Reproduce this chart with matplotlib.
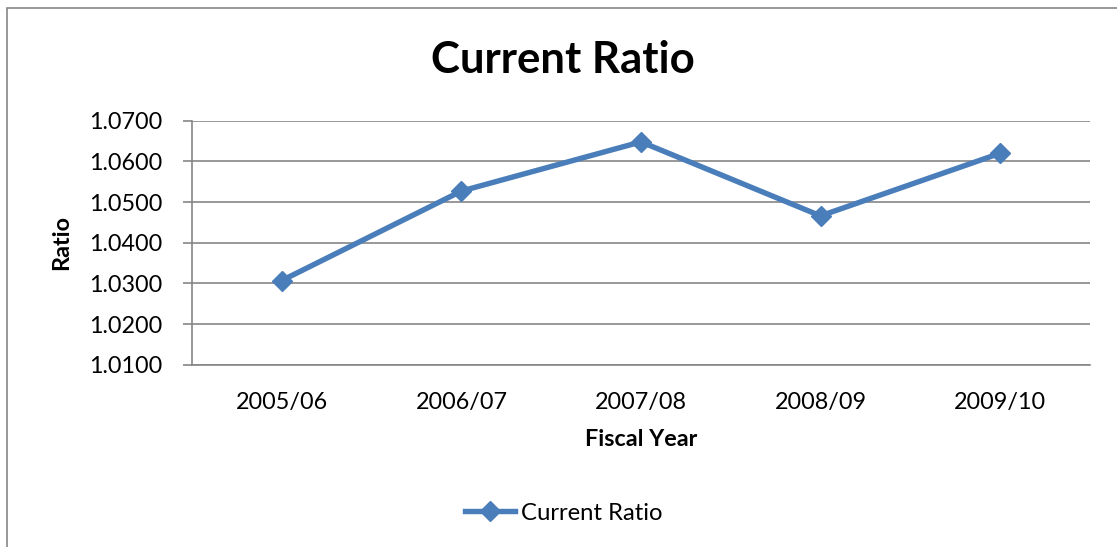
import matplotlib.pyplot as plt
from matplotlib.patches import Rectangle
from matplotlib.ticker import FormatStrFormatter, MultipleLocator

years = ['2005/06', '2006/07', '2007/08', '2008/09', '2009/10']
current_ratio = [1.0307, 1.0527, 1.0648, 1.0466, 1.0620]

plt.rcParams['font.family'] = ['Lato', 'DejaVu Sans']

fig = plt.figure(figsize=(11.17, 5.47), dpi=100)
ax = fig.add_axes([0.1719, 0.3333, 0.8039, 0.446])

# chart border (cut off at right/bottom like the reference)
fig.patches.append(Rectangle((7 / 1117, -0.05), 1.2, 1 - 8 / 547 + 0.05,
                             transform=fig.transFigure, fill=False,
                             edgecolor='#868686', linewidth=1.2))

x = range(len(years))
ax.plot(x, current_ratio, color='#4A7EBB', linewidth=3.9, marker='D',
        markersize=10.5, label='Current Ratio')

ax.set_xlim(-0.5, len(years) - 0.5)
ax.set_ylim(1.01, 1.07)
ax.yaxis.set_major_locator(MultipleLocator(0.01))
ax.yaxis.set_major_formatter(FormatStrFormatter('%.4f'))
ax.set_xticks(list(x))
ax.set_xticklabels(years)
ax.grid(axis='y', color='#868686', linewidth=1.2)
ax.set_axisbelow(True)

for s in ['top', 'right']:
    ax.spines[s].set_visible(False)
for s in ['left', 'bottom']:
    ax.spines[s].set_color('#868686')
    ax.spines[s].set_linewidth(1.2)

ax.tick_params(axis='y', length=6.5, width=1.2, color='#868686', labelsize=16.8, pad=15)
ax.tick_params(axis='x', length=0, labelsize=16.8, pad=20)

ax.set_xlabel('Fiscal Year', fontsize=16.8, fontweight='bold', labelpad=11)
ax.set_ylabel('Ratio', fontsize=16.8, fontweight='bold', labelpad=12)
fig.text(0.504, 0.89, 'Current Ratio', ha='center', va='center',
         fontsize=31.5, fontweight='bold')

fig.legend(loc='center', bbox_to_anchor=(0.505, 0.062), frameon=False,
           fontsize=17.2, handlelength=2.1, handletextpad=0.25)

fig.savefig('out.png', dpi=100)
